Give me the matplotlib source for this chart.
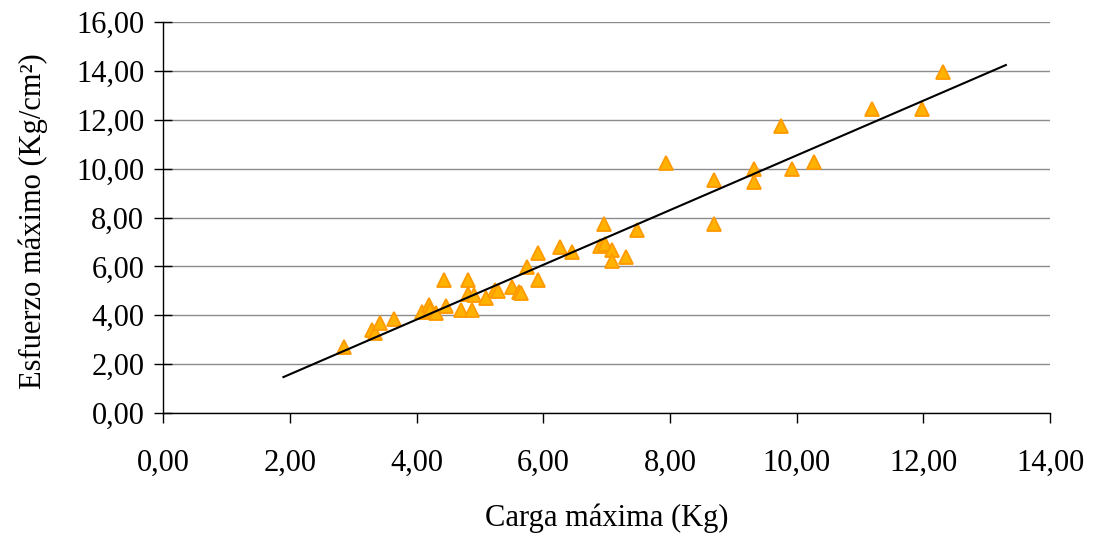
import numpy as np
import matplotlib.pyplot as plt
from matplotlib.ticker import FuncFormatter, MultipleLocator

# Carga maxima (Kg) vs esfuerzo maximo (Kg/cm2)
carga = [2.86, 3.30, 3.35, 3.43, 3.64, 4.08, 4.19, 4.22, 4.31, 4.47,
         4.44, 4.71, 4.82, 4.82, 4.87, 4.91, 5.10, 5.24, 5.29, 5.50,
         5.62, 5.65, 5.74, 5.92, 5.92, 6.26, 6.46, 6.89, 6.96, 6.98,
         7.09, 7.09, 7.30, 7.48, 7.94, 8.69, 8.69, 9.32, 9.32, 9.75,
         9.92, 10.27, 11.18, 11.97, 12.31]
esfuerzo = [2.69, 3.40, 3.29, 3.67, 3.83, 4.14, 4.42, 4.21, 4.08, 4.38,
            5.44, 4.21, 5.44, 4.86, 4.21, 4.82, 4.69, 5.03, 5.00, 5.14,
            4.96, 4.91, 5.96, 5.44, 6.56, 6.78, 6.60, 6.83, 7.73, 6.91,
            6.67, 6.23, 6.37, 7.50, 10.22, 9.53, 7.73, 9.97, 9.46, 11.74,
            9.97, 10.28, 12.43, 12.43, 13.97]

# linea de tendencia
trend_x = [1.90, 13.30]
trend_y = [1.47, 14.24]

plt.rcParams['font.family'] = ['Liberation Serif', 'DejaVu Serif']

fig = plt.figure(figsize=(10.94, 5.41), dpi=100)
ax = fig.add_axes([0.149, 0.2366, 0.811, 0.7227])

ax.plot(carga, esfuerzo, linestyle='none', marker='^', markersize=10.5,
        markerfacecolor='#FFB300', markeredgecolor='#FF9900',
        markeredgewidth=1.3, zorder=3)
ax.plot(trend_x, trend_y, color='black', linewidth=1.5, zorder=4)

ax.set_xlim(0, 14)
ax.set_ylim(0, 16)
ax.xaxis.set_major_locator(MultipleLocator(2))
ax.yaxis.set_major_locator(MultipleLocator(2))
fmt = FuncFormatter(lambda v, p: f'{v:.2f}'.replace('.', ','))
ax.xaxis.set_major_formatter(fmt)
ax.yaxis.set_major_formatter(fmt)

ax.grid(axis='y', color='#8c8c8c', linewidth=1.0)
ax.set_axisbelow(True)
for s in ['top', 'right']:
    ax.spines[s].set_visible(False)
for s in ['left', 'bottom']:
    ax.spines[s].set_color('black')
    ax.spines[s].set_linewidth(1.0)

ax.tick_params(axis='x', labelsize=22, direction='out', length=7, width=1.0,
               color='black', pad=19)
ax.tick_params(axis='y', labelsize=22, direction='inout', length=13, width=1.0,
               color='black', pad=7)

ax.set_xlabel('Carga máxima (Kg)', fontsize=22, va='center')
ax.xaxis.set_label_coords(0.5, -0.27)
ax.set_ylabel('Esfuerzo máximo (Kg/cm²)', fontsize=22, va='center')
ax.yaxis.set_label_coords(-0.146, 0.49)

fig.savefig('out.png', dpi=100)
